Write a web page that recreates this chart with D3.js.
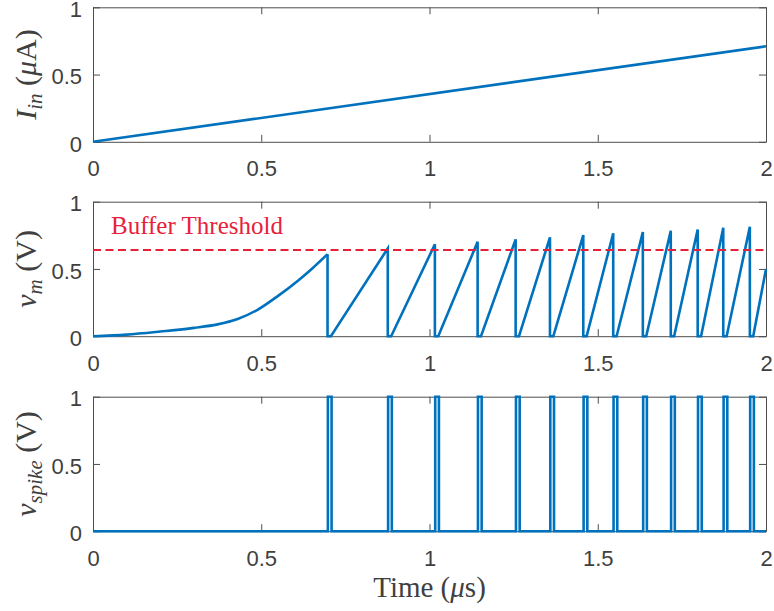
<!DOCTYPE html>
<html>
<head>
<meta charset="utf-8">
<script src="https://cdn.jsdelivr.net/npm/d3@7"></script>
<style>
  body { margin: 0; background: #fff; }
  svg { display: block; }
</style>
</head>
<body>
<div id="chart"></div>
<script>
// x ticks shared by all three panels (time in microseconds)
const timeTicks = [0, 0.5, 1, 1.5, 2];
const valueTicks = [0, 0.5, 1];

// input current ramp (uA)
const currentTimes = [0, 2];
const currentValues = [0, 0.71];

// first slow charge of the membrane, before the first spike
const chargeTimes = [0, 0.1, 0.2, 0.3, 0.37, 0.43, 0.49, 0.55, 0.61, 0.65, 0.697];
const chargeValues = [0, 0.012, 0.035, 0.062, 0.088, 0.128, 0.198, 0.3, 0.415, 0.5, 0.61];

// each later cycle: reset to 0, stay there briefly, ramp up to the next peak
const peakTimes = [0.697, 0.876, 1.016, 1.143, 1.256, 1.358, 1.457, 1.546, 1.634, 1.717, 1.797, 1.873, 1.952];
const peakValues = [0.61, 0.653, 0.683, 0.702, 0.72, 0.735, 0.752, 0.765, 0.774, 0.784, 0.794, 0.806, 0.814];
const rampStartTimes = [0.707, 0.886, 1.026, 1.153, 1.266, 1.368, 1.467, 1.556, 1.644, 1.727, 1.807, 1.883, 1.962];
const endTime = 2;
const endValue = 0.5;

// output spike pulses
const spikeOnTimes = [0.698, 0.877, 1.017, 1.144, 1.257, 1.359, 1.458, 1.547, 1.635, 1.718, 1.798, 1.874, 1.953];
const spikeOffTimes = [0.709, 0.888, 1.028, 1.155, 1.268, 1.370, 1.469, 1.558, 1.646, 1.729, 1.809, 1.885, 1.964];

const bufferThreshold = 0.64;

// smooth first charge, then the linear sawtooth
const chargeData = chargeTimes.map((t, i) => ({ t, v: chargeValues[i] }));
const sawData = [];
peakTimes.forEach((t, i) => {
  sawData.push({ t, v: peakValues[i] });
  sawData.push({ t, v: 0 });
  sawData.push({ t: rampStartTimes[i], v: 0 });
});
sawData.push({ t: endTime, v: endValue });

const spikeData = [{ t: 0, v: 0 }];
spikeOnTimes.forEach((t, i) => {
  spikeData.push({ t, v: 0 }, { t, v: 1 }, { t: spikeOffTimes[i], v: 1 }, { t: spikeOffTimes[i], v: 0 });
});
spikeData.push({ t: 2, v: 0 });

const currentData = currentTimes.map((t, i) => ({ t, v: currentValues[i] }));

const width = 774;
const height = 611;
const margin = { left: 93, right: 8 };
const panelTops = [7.3, 201.7, 396.7];
const panelHeight = 134.5;
const lineColor = '#0072BD';
const axisColor = '#4d4d4d';
const tickFont = '"Liberation Sans", Arial, sans-serif';
const labelFont = '"Liberation Serif", "Times New Roman", serif';

const svg = d3.select('#chart').append('svg')
  .attr('width', width)
  .attr('height', height);

const xScale = d3.scaleLinear()
  .domain([0, 2])
  .range([margin.left, width - margin.right]);

function drawPanel(top, series, yLabel) {
  const yScale = d3.scaleLinear()
    .domain([0, 1])
    .range([top + panelHeight, top]);

  const g = svg.append('g');

  // ticks drawn inward on all four sides, like a boxed MATLAB axis
  const bottomAxis = g.append('g')
    .attr('transform', `translate(0, ${top + panelHeight})`)
    .call(d3.axisBottom(xScale).tickValues(timeTicks).tickFormat(d3.format('')).tickSizeInner(-7).tickSizeOuter(0).tickPadding(19));
  const topAxis = g.append('g')
    .attr('transform', `translate(0, ${top})`)
    .call(d3.axisTop(xScale).tickValues(timeTicks).tickFormat('').tickSizeInner(-7).tickSizeOuter(0));
  const leftAxis = g.append('g')
    .attr('transform', `translate(${margin.left}, 0)`)
    .call(d3.axisLeft(yScale).tickValues(valueTicks).tickFormat(d3.format('')).tickSizeInner(-7).tickSizeOuter(0).tickPadding(11));
  const rightAxis = g.append('g')
    .attr('transform', `translate(${width - margin.right}, 0)`)
    .call(d3.axisRight(yScale).tickValues(valueTicks).tickFormat('').tickSizeInner(-7).tickSizeOuter(0));

  [bottomAxis, topAxis, leftAxis, rightAxis].forEach(ax => {
    ax.select('.domain').attr('stroke', axisColor).attr('stroke-width', 1);
    ax.selectAll('.tick line').attr('stroke', axisColor).attr('stroke-width', 1);
    ax.selectAll('.tick text')
      .attr('fill', '#404040')
      .style('font-family', tickFont)
      .style('font-size', '22px');
  });
  bottomAxis.selectAll('.tick text').attr('dy', '0.71em');
  leftAxis.selectAll('.tick text').attr('dy', '0.42em');

  series.forEach(s => {
    const line = d3.line()
      .curve(s.curve || d3.curveLinear)
      .x(d => xScale(d.t))
      .y(d => yScale(d.v));
    g.append('path')
      .datum(s.data)
      .attr('fill', 'none')
      .attr('stroke', lineColor)
      .attr('stroke-width', 2.6)
      .attr('stroke-linejoin', 'miter')
      .attr('d', line);
  });

  // rotated y label built from tspans for the subscripts
  const label = g.append('text')
    .attr('transform', `translate(${yLabel.x}, ${top + panelHeight / 2}) rotate(-90)`)
    .attr('text-anchor', 'middle')
    .attr('fill', '#404040')
    .style('font-family', labelFont)
    .style('font-size', '30px');
  yLabel.parts.forEach(p => {
    label.append('tspan')
      .attr('font-style', p.italic ? 'italic' : 'normal')
      .attr('font-size', p.sub ? '21px' : null)
      .attr('dy', p.dy || 0)
      .text(p.text);
  });

  return { g, yScale };
}

drawPanel(panelTops[0], [{ data: currentData }], {
  x: 36,
  parts: [
    { text: 'I', italic: true },
    { text: 'in', italic: true, sub: true, dy: 6 },
    { text: ' (', dy: -6 },
    { text: 'μ', italic: true },
    { text: 'A)' }
  ]
});

const vmPanel = drawPanel(panelTops[1], [
  { data: chargeData, curve: d3.curveMonotoneX },
  { data: sawData }
], {
  x: 36,
  parts: [
    { text: 'v', italic: true },
    { text: 'm', italic: true, sub: true, dy: 6 },
    { text: ' (V)', dy: -6 }
  ]
});

drawPanel(panelTops[2], [{ data: spikeData }], {
  x: 36,
  parts: [
    { text: 'v', italic: true },
    { text: 'spike', italic: true, sub: true, dy: 6 },
    { text: ' (V)', dy: -6 }
  ]
});

// dashed buffer threshold with its label
vmPanel.g.append('line')
  .attr('x1', xScale(0))
  .attr('x2', xScale(2))
  .attr('y1', vmPanel.yScale(bufferThreshold))
  .attr('y2', vmPanel.yScale(bufferThreshold))
  .attr('stroke', '#E8213A')
  .attr('stroke-width', 2)
  .attr('stroke-dasharray', '8,4.5');

vmPanel.g.append('text')
  .attr('x', 111)
  .attr('y', 234)
  .attr('fill', '#E8213A')
  .style('font-family', labelFont)
  .style('font-size', '25px')
  .text('Buffer Threshold');

// shared x label
const xLabel = svg.append('text')
  .attr('x', (xScale(0) + xScale(2)) / 2)
  .attr('y', 597)
  .attr('text-anchor', 'middle')
  .attr('fill', '#404040')
  .style('font-family', labelFont)
  .style('font-size', '29px');
xLabel.append('tspan').text('Time (');
xLabel.append('tspan').attr('font-style', 'italic').text('μ');
xLabel.append('tspan').text('s)');
</script>
</body>
</html>
